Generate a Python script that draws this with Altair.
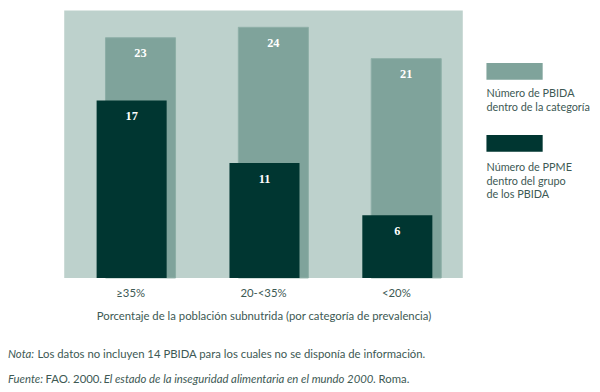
import altair as alt
import pandas as pd

categories = ["≥35%", "20-<35%", "<20%"]
pbida = [23, 24, 21]
ppme = [17, 11, 6]

legend_labels = [
    ["Número de PBIDA", "dentro de la categoría"],
    ["Número de PPME", "dentro del grupo", "de los PBIDA"],
]
axis_title = "Porcentaje de la población subnutrida (por categoría de prevalencia)"

BG = "#BDD1CC"
LIGHT = "#7FA39B"
DARK = "#003631"
TXT = "#3d5954"
FONT = "Lato"
FS = 11.5

df = pd.DataFrame({"cat": categories, "pbida": pbida, "ppme": ppme})
one = pd.DataFrame({"k": [0]})

W, H = 404, 271
ymax = 25.6

x = alt.X("cat:N", sort=categories,
          scale=alt.Scale(paddingInner=0, paddingOuter=0),
          axis=alt.Axis(title=axis_title, labelAngle=0, domain=False, ticks=False,
                        labelPadding=10, titlePadding=12, labelFontSize=FS,
                        titleFontSize=FS, titleFontWeight="normal",
                        labelColor=TXT, titleColor=TXT, labelFont=FONT, titleFont=FONT))
yscale = alt.Scale(domain=[0, ymax], nice=False)

base = alt.Chart(df)
NUMFONT = "Liberation Serif"

light = base.mark_bar(size=71, xOffset=10, color=LIGHT, stroke="#8DAFA7", strokeWidth=1).encode(
    x=x, y=alt.Y("pbida:Q", scale=yscale, axis=None))
light_txt = base.mark_text(xOffset=10, dy=16, color="white", font=NUMFONT,
                           fontWeight="bold", fontSize=12.5).encode(
    x=alt.X("cat:N", sort=categories), y=alt.Y("pbida:Q", scale=yscale), text="pbida:Q")
dark = base.mark_bar(size=71, xOffset=1, color=DARK).encode(
    x=alt.X("cat:N", sort=categories), y=alt.Y("ppme:Q", scale=yscale))
dark_txt = base.mark_text(xOffset=1, dy=16, color="white", font=NUMFONT,
                          fontWeight="bold", fontSize=12.5).encode(
    x=alt.X("cat:N", sort=categories), y=alt.Y("ppme:Q", scale=yscale), text="ppme:Q")

ob = alt.Chart(one)
sw1 = ob.mark_rect(color=LIGHT).encode(x=alt.value(428), x2=alt.value(485),
                                       y=alt.value(53), y2=alt.value(70))
sw2 = ob.mark_rect(color=DARK).encode(x=alt.value(428), x2=alt.value(485),
                                      y=alt.value(126), y2=alt.value(143))
lt1 = ob.mark_text(align="left", baseline="middle", font=FONT, fontSize=11, color=TXT,
                   lineHeight=13.5).encode(x=alt.value(428), y=alt.value(85),
                                           text=alt.value(legend_labels[0]))
lt2 = ob.mark_text(align="left", baseline="middle", font=FONT, fontSize=11, color=TXT,
                   lineHeight=13.5).encode(x=alt.value(428), y=alt.value(160),
                                           text=alt.value(legend_labels[1]))

def seg(txt, xv, yv, italic=False):
    return ob.mark_text(align="left", baseline="middle", font=FONT, fontSize=FS, color=TXT,
                        fontStyle="italic" if italic else "normal").encode(
        x=alt.value(xv), y=alt.value(yv), text=alt.value(txt))

notes = [
    seg("Nota:", -57, 349, True),
    seg("Los datos no incluyen 14 PBIDA para los cuales no se disponía de información.", -27, 349),
    seg("Fuente:", -57, 374, True),
    seg("FAO. 2000.", -19, 374),
    seg("El estado de la inseguridad alimentaria en el mundo 2000", 40, 374, True),
    seg(". Roma.", 313, 374),
]

chart = alt.layer(light, light_txt, dark, dark_txt, sw1, sw2, lt1, lt2, *notes).properties(
    width=W, height=H,
    autosize=alt.AutoSizeParams(type="none"),
    padding={"left": 57, "top": 0, "right": 131, "bottom": 113},
).configure_view(fill=BG, strokeWidth=0)

chart.save("out.html", embed_options={"renderer": "svg", "actions": False})
